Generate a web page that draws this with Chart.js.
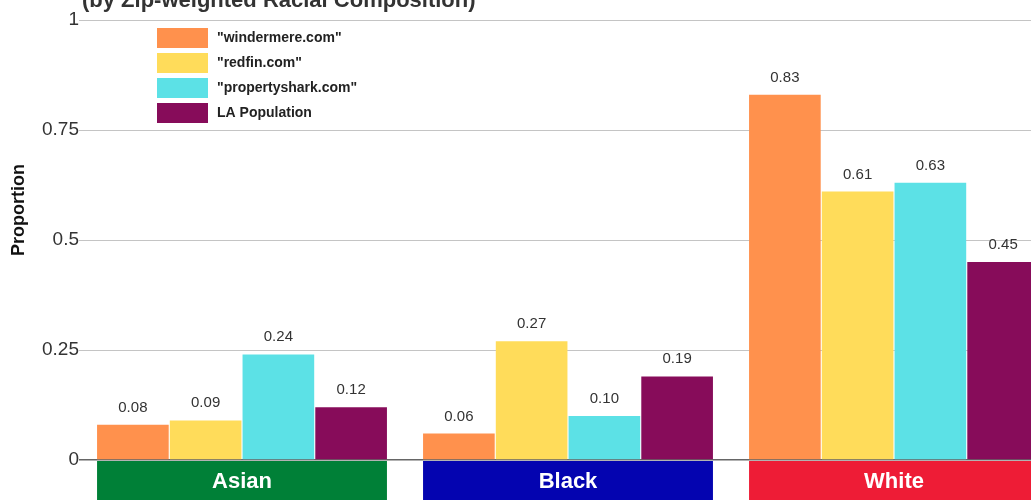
<!DOCTYPE html>
<html>
<head>
<meta charset="utf-8">
<script src="https://cdn.jsdelivr.net/npm/chart.js@4/dist/chart.umd.min.js"></script>
<style>
  html, body { margin: 0; padding: 0; background: #fff; overflow: hidden; width: 1031px; height: 500px; }
  #wrap { position: absolute; left: 0; top: -20px; width: 1057px; height: 520px; }
</style>
</head>
<body>
<div id="wrap"><canvas id="myChart" width="1057" height="520"></canvas></div>
<script>
const categories = ['Asian', 'Black', 'White'];
const categoryColors = ['rgb(0, 128, 55)', 'rgb(4, 4, 176)', 'rgb(238, 28, 54)'];

const seriesNames = ['"windermere.com"', '"redfin.com"', '"propertyshark.com"', 'LA Population'];
const seriesColors = ['rgb(255, 145, 77)', 'rgb(255, 220, 90)', 'rgb(92, 225, 230)', 'rgb(135, 12, 90)'];

const windermere = [0.08, 0.06, 0.83];
const redfin = [0.09, 0.27, 0.61];
const propertyshark = [0.24, 0.10, 0.63];
const laPopulation = [0.12, 0.19, 0.45];

const yTicks = [0, 0.25, 0.5, 0.75, 1];

const titleText = '(by Zip-weighted Racial Composition)';
const yTitle = 'Proportion';

const FONT = '"Liberation Sans", Arial, sans-serif';

// titles, legend, value labels, category boxes
const extras = {
  id: 'extras',
  afterDatasetsDraw(chart) {
    const ctx = chart.ctx;
    const area = chart.chartArea;
    ctx.save();

    // value labels over bars
    ctx.fillStyle = '#333';
    ctx.font = '15px ' + FONT;
    ctx.textAlign = 'center';
    ctx.textBaseline = 'alphabetic';
    chart.data.datasets.forEach((ds, i) => {
      chart.getDatasetMeta(i).data.forEach((bar, j) => {
        ctx.fillText(ds.data[j].toFixed(2), bar.x, bar.y - 13);
      });
    });

    // category label boxes under each group
    const first = chart.getDatasetMeta(0).data;
    const last = chart.getDatasetMeta(chart.data.datasets.length - 1).data;
    categories.forEach((cat, j) => {
      const l = first[j].x - first[j].width / 2;
      const r = last[j].x + last[j].width / 2;
      ctx.fillStyle = categoryColors[j];
      ctx.fillRect(l, area.bottom + 1, r - l, chart.height - area.bottom);
      ctx.fillStyle = '#fff';
      ctx.font = 'bold 22px ' + FONT;
      ctx.textAlign = 'center';
      ctx.fillText(cat, (l + r) / 2, area.bottom + 28);
    });

    // legend
    ctx.textAlign = 'left';
    ctx.textBaseline = 'middle';
    ctx.font = 'bold 14px ' + FONT;
    chart.data.datasets.forEach((ds, i) => {
      const y = 48 + i * 25;
      ctx.fillStyle = ds.backgroundColor;
      ctx.fillRect(157, y, 51, 20);
      ctx.fillStyle = '#222';
      ctx.fillText(ds.label, 217, y + 10);
    });

    // chart title (cut off at the top)
    ctx.fillStyle = '#333';
    ctx.font = 'bold 22px ' + FONT;
    ctx.textBaseline = 'alphabetic';
    ctx.fillText(titleText, 82, 27);

    // y axis title
    ctx.translate(19, 230);
    ctx.rotate(-Math.PI / 2);
    ctx.textAlign = 'center';
    ctx.textBaseline = 'middle';
    ctx.font = 'bold 18px ' + FONT;
    ctx.fillStyle = '#111';
    ctx.fillText(yTitle, 0, 0);

    ctx.restore();
  }
};

const seriesData = [windermere, redfin, propertyshark, laPopulation];

const data = {
  labels: categories,
  datasets: seriesData.map((vals, i) => ({
    label: seriesNames[i],
    data: vals,
    backgroundColor: seriesColors[i],
    borderWidth: 0,
    barPercentage: 0.985,
    categoryPercentage: 0.8926,
  })),
};

const config = {
  type: 'bar',
  data: data,
  options: {
    responsive: false,
    animation: false,
    layout: { padding: { top: 40, bottom: 40, left: 0, right: 0 } },
    plugins: {
      legend: { display: false },
      tooltip: { enabled: false },
    },
    scales: {
      x: {
        display: false,
      },
      y: {
        min: 0,
        max: 1,
        afterFit: (scale) => { scale.width = 79; },
        afterBuildTicks: (scale) => { scale.ticks = yTicks.map((v) => ({ value: v })); },
        border: { display: false },
        grid: {
          drawTicks: false,
          color: (c) => (c.tick && c.tick.value === 0 ? '#666' : '#c4c4c4'),
          lineWidth: (c) => (c.tick && c.tick.value === 0 ? 1.5 : 1),
        },
        ticks: {
          padding: 0,
          color: '#333',
          font: { family: FONT, size: 19 },
          callback: (v) => String(v),
        },
      },
    },
  },
  plugins: [extras],
};

const myChart = new Chart(document.getElementById('myChart'), config);
</script>
</body>
</html>
